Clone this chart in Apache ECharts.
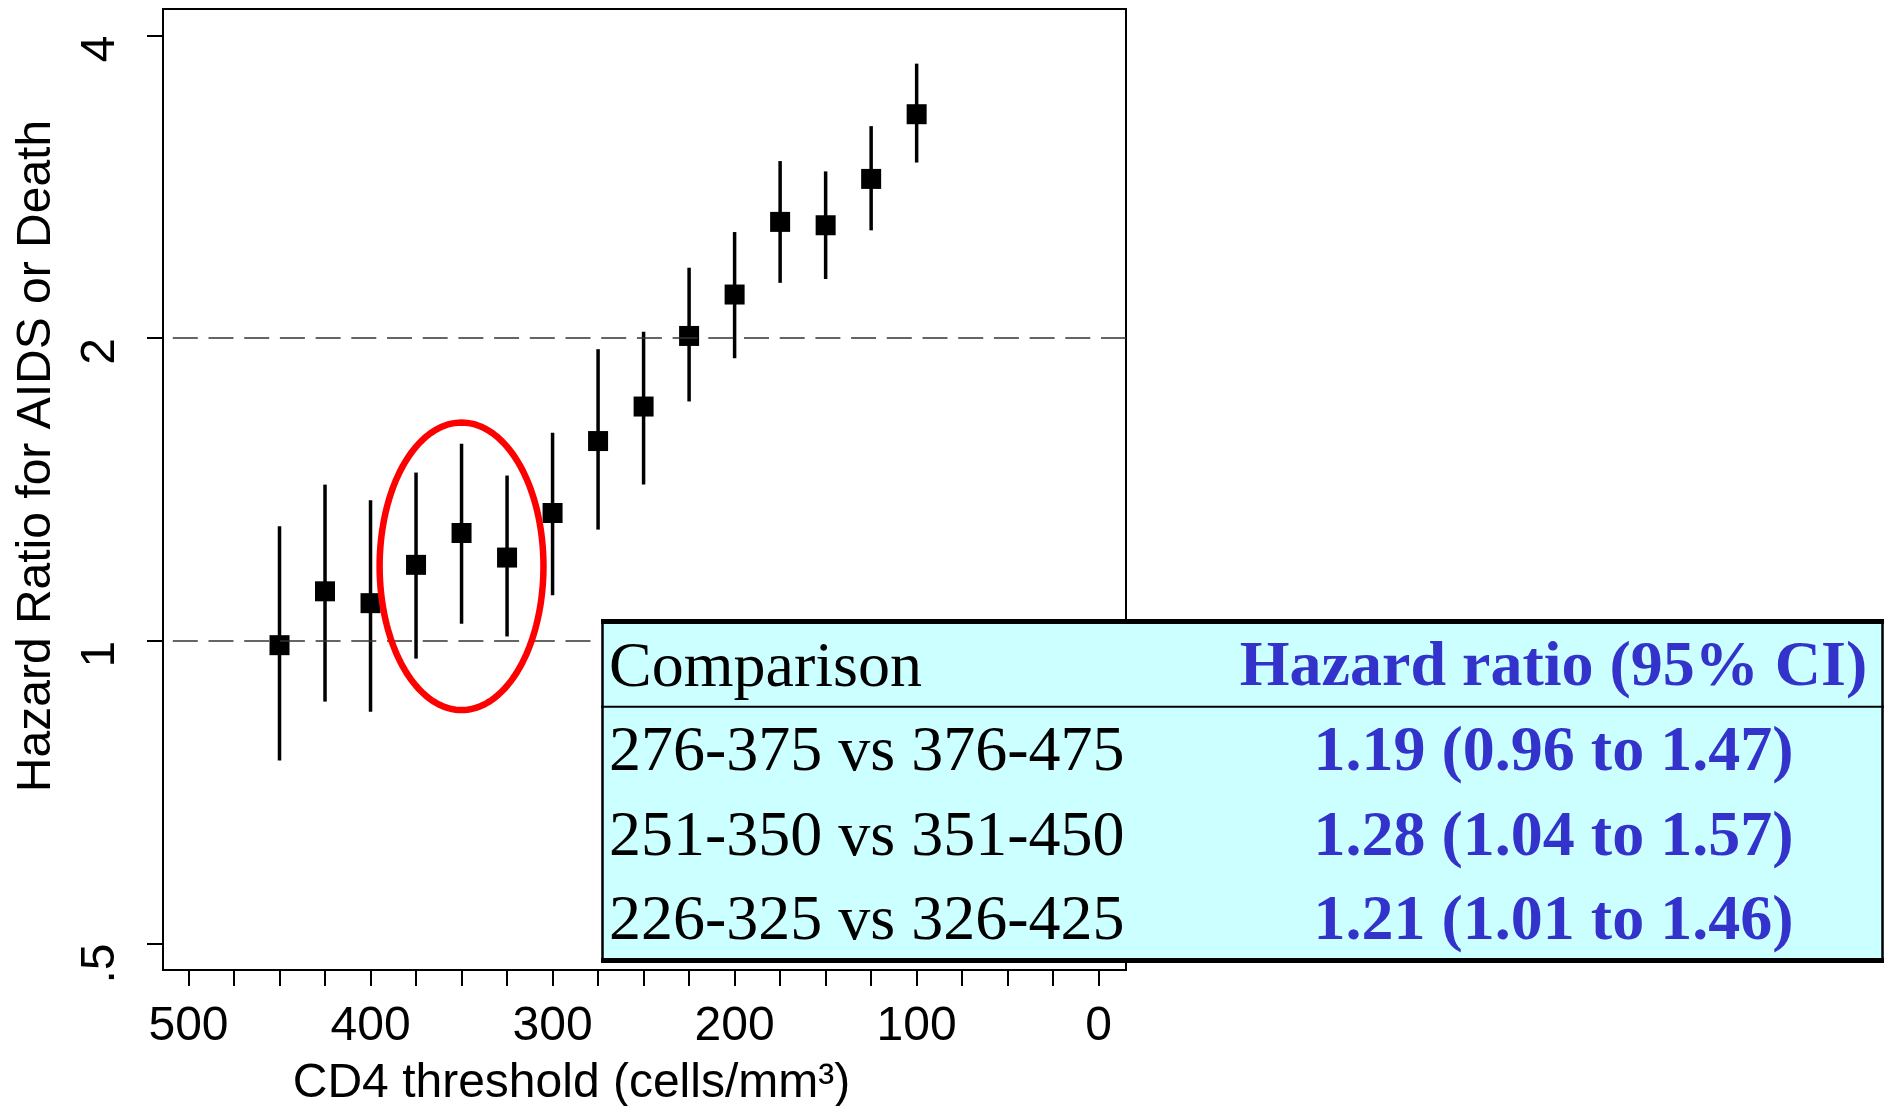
<!DOCTYPE html>
<html>
<head>
<meta charset="utf-8">
<script src="https://cdn.jsdelivr.net/npm/echarts@6/dist/echarts.min.js"></script>
<style>
html,body{margin:0;padding:0;background:#ffffff;}
#chart{width:1891px;height:1106px;}
</style>
</head>
<body>
<div id="chart"></div>
<script>
// ---------------- data ----------------
const cd4Threshold = [450, 425, 400, 375, 350, 325, 300, 275, 250, 225, 200, 175, 150, 125, 100];
const hazardRatio  = [0.99, 1.12, 1.09, 1.19, 1.28, 1.21, 1.34, 1.58, 1.71, 2.01, 2.21, 2.61, 2.59, 2.88, 3.34];
const ciLower      = [0.76, 0.87, 0.85, 0.96, 1.04, 1.01, 1.11, 1.29, 1.43, 1.73, 1.91, 2.27, 2.29, 2.56, 2.99];
const ciUpper      = [1.30, 1.43, 1.38, 1.47, 1.57, 1.46, 1.61, 1.95, 2.03, 2.35, 2.55, 3.00, 2.93, 3.25, 3.75];

const xTickValues  = [0, 25, 50, 75, 100, 125, 150, 175, 200, 225, 250, 275, 300, 325, 350, 375, 400, 425, 450, 475, 500];
const xLabelValues = [0, 100, 200, 300, 400, 500];
const yTickValues  = [0.5, 1, 2, 4];
const yTickLabels  = ['.5', '1', '2', '4'];
const referenceLines = [1, 2];

const xTitle = 'CD4 threshold (cells/mm\u00B3)';
const yTitle = 'Hazard Ratio for AIDS or Death';

const tableHeader      = ['Comparison', 'Hazard ratio (95% CI)'];
const tableComparisons = ['276-375 vs 376-475', '251-350 vs 351-450', '226-325 vs 326-425'];
const tableEstimates   = ['1.19 (0.96 to 1.47)', '1.28 (1.04 to 1.57)', '1.21 (1.01 to 1.46)'];

// highlighted group (in data units): centre threshold, centre HR, half-width (cells), half-height (log2 units)
const highlightCenterX = 350;
const highlightCenterHR = 1.186;
const highlightHalfWidth = 45;
const highlightHalfHeightLog2 = 0.475;

// ---------------- chart ----------------
const L2 = v => Math.log2(v);
const chart = echarts.init(document.getElementById('chart'), null, {renderer: 'canvas'});

const pointData = cd4Threshold.map((x, i) => [x, L2(hazardRatio[i])]);
const barData = cd4Threshold.map((x, i) => [x, L2(ciLower[i]), L2(ciUpper[i])]);

const sans = 'Liberation Sans, Arial, sans-serif';
const serif = 'Liberation Serif, Times New Roman, serif';

chart.setOption({
  animation: false,
  backgroundColor: '#ffffff',
  grid: {
    left: 163, right: 765, top: 9, bottom: 136,
    show: true, borderColor: '#000000', borderWidth: 2, backgroundColor: 'transparent'
  },
  xAxis: {
    type: 'value', inverse: true, min: -15, max: 514,
    axisLine: {show: true, onZero: false, lineStyle: {color: '#000', width: 2}},
    axisTick: {show: true, length: 16, lineStyle: {color: '#000', width: 2}, customValues: xTickValues},
    axisLabel: {
      show: true, customValues: xLabelValues, margin: 33,
      fontFamily: sans, fontSize: 48, color: '#000',
      formatter: v => String(Math.round(v))
    },
    splitLine: {show: false}
  },
  yAxis: {
    type: 'value', min: L2(0.4705), max: L2(4.25),
    axisLine: {show: true, onZero: false, lineStyle: {color: '#000', width: 2}},
    axisTick: {show: true, length: 16, lineStyle: {color: '#000', width: 2}, customValues: yTickValues.map(L2)},
    axisLabel: {
      show: true, customValues: yTickValues.map(L2), rotate: 90, align: 'right', margin: 38,
      fontFamily: sans, fontSize: 48, color: '#000',
      formatter: v => {
        for (let i = 0; i < yTickValues.length; i++) {
          if (Math.abs(L2(yTickValues[i]) - v) < 1e-6) return yTickLabels[i];
        }
        return '';
      }
    },
    splitLine: {show: false}
  },
  series: [
    {
      type: 'custom',
      name: 'ci',
      z: 3,
      data: barData,
      renderItem: (params, api) => {
        const p1 = api.coord([api.value(0), api.value(1)]);
        const p2 = api.coord([api.value(0), api.value(2)]);
        return {
          type: 'line',
          shape: {x1: p1[0], y1: p1[1], x2: p2[0], y2: p2[1]},
          style: {stroke: '#000', lineWidth: 3.5}
        };
      }
    },
    {
      type: 'scatter',
      name: 'hr',
      z: 4,
      data: pointData,
      symbol: 'rect',
      symbolSize: 20,
      itemStyle: {color: '#000', opacity: 1},
      markLine: {
        silent: true,
        symbol: ['none', 'none'],
        label: {show: false},
        lineStyle: {color: '#333333', width: 1.5, type: [25, 10.7]},
        data: referenceLines.map(v => ({yAxis: L2(v)}))
      }
    }
  ]
});

// ---------------- annotations ----------------
const c = chart.convertToPixel({gridIndex: 0}, [highlightCenterX, L2(highlightCenterHR)]);
const cx = chart.convertToPixel({gridIndex: 0}, [highlightCenterX - highlightHalfWidth, L2(highlightCenterHR)]);
const cy = chart.convertToPixel({gridIndex: 0}, [highlightCenterX, L2(highlightCenterHR) + highlightHalfHeightLog2]);
const rx = Math.abs(cx[0] - c[0]);
const ry = Math.abs(cy[1] - c[1]);
const ellipsePts = [];
for (let k = 0; k < 180; k++) {
  const t = k / 180 * Math.PI * 2;
  ellipsePts.push([c[0] + rx * Math.cos(t), c[1] + ry * Math.sin(t)]);
}

// table layout
const tblL = 601, tblR = 1884, tblT = 619, tblB = 963;
const sepY = 706.7;
const headerBase = 690.5;
const rowBase = [775.2, 860.2, 944.2];
const leftColX = 609;
const rightColX = 1553.5;
const fs = 64;
const midOff = 0.3375 * fs; // baseline -> em middle
const blue = '#3333cc';

const graphics = [];
graphics.push({
  type: 'polygon', z: 50, silent: true,
  shape: {points: ellipsePts},
  style: {fill: 'none', stroke: '#ff0000', lineWidth: 6.5}
});
// axis titles
graphics.push({
  type: 'text', z: 20, silent: true,
  x: 571.5, y: 1100 - 16.6,
  style: {text: xTitle, font: '48px ' + sans, fill: '#000', textAlign: 'center', textVerticalAlign: 'middle'}
});
graphics.push({
  type: 'text', z: 20, silent: true,
  x: 53.3 - 16.6, y: 456, rotation: Math.PI / 2,
  style: {text: yTitle, font: '48px ' + sans, fill: '#000', textAlign: 'center', textVerticalAlign: 'middle'}
});
// table
graphics.push({type: 'rect', z: 100, silent: true, shape: {x: tblL, y: tblT, width: tblR - tblL, height: tblB - tblT}, style: {fill: '#ccffff', stroke: 'none'}});
graphics.push({type: 'line', z: 101, silent: true, shape: {x1: tblL + 1.5, y1: tblT, x2: tblL + 1.5, y2: tblB}, style: {stroke: '#000', lineWidth: 2.5}});
graphics.push({type: 'line', z: 101, silent: true, shape: {x1: tblR - 1.5, y1: tblT, x2: tblR - 1.5, y2: tblB}, style: {stroke: '#000', lineWidth: 2.5}});
graphics.push({type: 'line', z: 101, silent: true, shape: {x1: tblL, y1: tblT + 2.5, x2: tblR, y2: tblT + 2.5}, style: {stroke: '#000', lineWidth: 5}});
graphics.push({type: 'line', z: 101, silent: true, shape: {x1: tblL, y1: tblB - 2.5, x2: tblR, y2: tblB - 2.5}, style: {stroke: '#000', lineWidth: 5}});
graphics.push({type: 'line', z: 101, silent: true, shape: {x1: tblL, y1: sepY, x2: tblR, y2: sepY}, style: {stroke: '#000', lineWidth: 2}});
graphics.push({
  type: 'text', z: 102, silent: true, x: leftColX, y: headerBase - midOff,
  style: {text: tableHeader[0], font: fs + 'px ' + serif, fill: '#000', textAlign: 'left', textVerticalAlign: 'middle'}
});
graphics.push({
  type: 'text', z: 102, silent: true, x: rightColX, y: headerBase - midOff,
  style: {text: tableHeader[1], font: 'bold ' + fs + 'px ' + serif, fill: blue, textAlign: 'center', textVerticalAlign: 'middle'}
});
tableComparisons.forEach((t, i) => {
  graphics.push({
    type: 'text', z: 102, silent: true, x: leftColX, y: rowBase[i] - midOff,
    style: {text: t, font: fs + 'px ' + serif, fill: '#000', textAlign: 'left', textVerticalAlign: 'middle'}
  });
  graphics.push({
    type: 'text', z: 102, silent: true, x: rightColX, y: rowBase[i] - midOff,
    style: {text: tableEstimates[i], font: 'bold ' + fs + 'px ' + serif, fill: blue, textAlign: 'center', textVerticalAlign: 'middle'}
  });
});

chart.setOption({graphic: {elements: graphics}});
</script>
</body>
</html>
